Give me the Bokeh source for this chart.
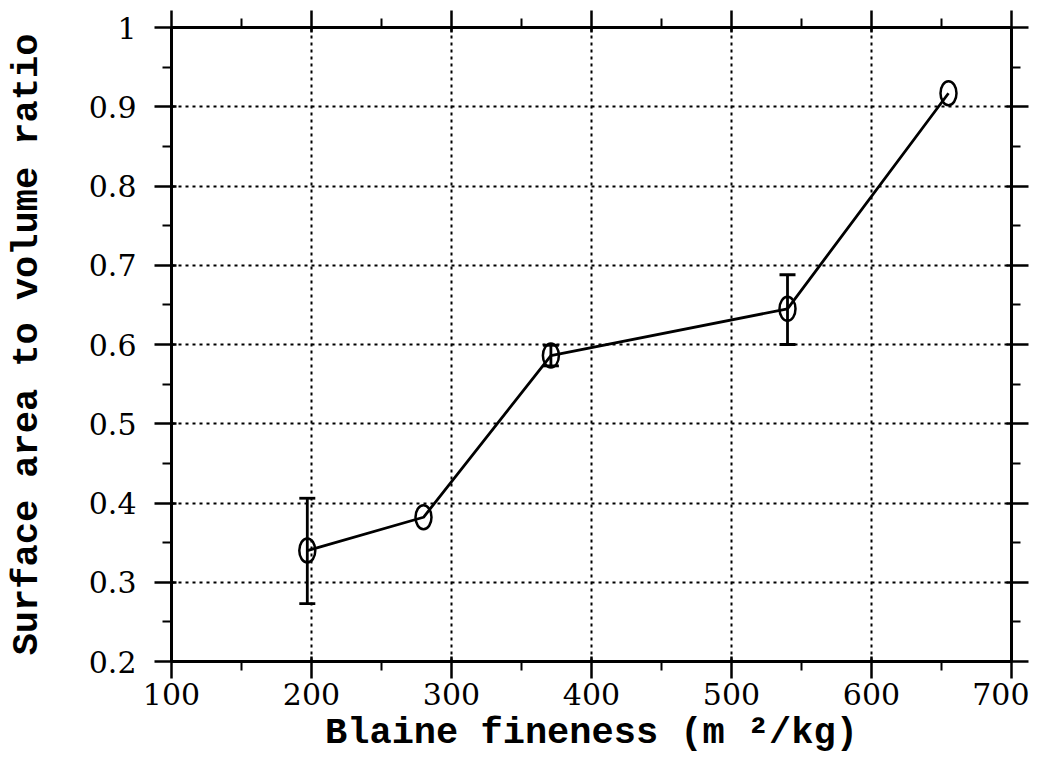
from bokeh.plotting import figure
from bokeh.models import (FixedTicker, LinearAxis, Whisker, TeeHead,
                          ColumnDataSource, Range1d, CustomJSTickFormatter)
from bokeh.embed import file_html
from bokeh.resources import INLINE

# ---- data ----
blaine = [197, 280, 371, 540, 655]
ratio = [0.340, 0.382, 0.586, 0.645, 0.917]

err_x = [197, 371, 540]
err_lo = [0.273, 0.573, 0.600]
err_hi = [0.406, 0.599, 0.688]

x_ticks = [100, 200, 300, 400, 500, 600, 700]
x_minor = [150, 250, 350, 450, 550, 650]
y_ticks = [0.2, 0.3, 0.4, 0.5, 0.6, 0.7, 0.8, 0.9, 1.0]
y_tick_labels = ["0.2", "0.3", "0.4", "0.5", "0.6", "0.7", "0.8", "0.9", "1"]
y_minor = [0.25, 0.35, 0.45, 0.55, 0.65, 0.75, 0.85, 0.95]

x_label = "Blaine fineness (m \u00b2/kg)"
y_label = "Surface area to volume ratio"

TICK_FONT = "DejaVu Serif"
LABEL_FONT = "Liberation Mono"

p = figure(width=1029, height=757,
           x_range=Range1d(100, 700), y_range=Range1d(0.2, 1.0),
           output_backend="svg", toolbar_location=None,
           min_border_left=171, min_border_right=18,
           min_border_top=27, min_border_bottom=96)
p.outline_line_color = None
p.background_fill_color = "white"
p.border_fill_color = "white"

xt = FixedTicker(ticks=x_ticks, minor_ticks=x_minor)
yt = FixedTicker(ticks=y_ticks, minor_ticks=y_minor)


def style_axis(ax, labels=True):
    ax.axis_line_color = "black"
    ax.axis_line_width = 3
    ax.major_tick_line_color = "black"
    ax.major_tick_line_width = 2.5
    ax.major_tick_in = 5
    ax.major_tick_out = 17
    ax.minor_tick_line_color = "black"
    ax.minor_tick_line_width = 2
    ax.minor_tick_in = 0
    ax.minor_tick_out = 9
    if labels:
        ax.major_label_text_font = TICK_FONT
        ax.major_label_text_font_size = "30px"
        ax.major_label_text_color = "black"
    else:
        ax.formatter = CustomJSTickFormatter(code="return '';")
        ax.major_label_standoff = 0


xa = p.xaxis[0]
xa.ticker = xt
style_axis(xa)
xa.major_label_standoff = 4
xa.axis_label = x_label
xa.axis_label_text_font = LABEL_FONT
xa.axis_label_text_font_style = "bold"
xa.axis_label_text_font_size = "37px"
xa.axis_label_text_color = "black"
xa.axis_label_standoff = 4

ya = p.yaxis[0]
ya.ticker = yt
style_axis(ya)
ya.major_label_overrides = dict(zip(y_ticks, y_tick_labels))
ya.major_label_standoff = 18
ya.axis_label = y_label
ya.axis_label_text_font = LABEL_FONT
ya.axis_label_text_font_style = "bold"
ya.axis_label_text_font_size = "37px"
ya.axis_label_text_color = "black"
ya.axis_label_standoff = 38

top = LinearAxis(ticker=xt)
style_axis(top, labels=False)
p.add_layout(top, "above")
right = LinearAxis(ticker=yt)
style_axis(right, labels=False)
p.add_layout(right, "right")

for g, t in ((p.xgrid[0], xt), (p.ygrid[0], yt)):
    g.ticker = t
    g.grid_line_color = "black"
    g.grid_line_width = 2
    g.grid_line_dash = "3 4"

src = ColumnDataSource(dict(x=blaine, y=ratio))
p.line("x", "y", source=src, line_color="black", line_width=2.8)

esrc = ColumnDataSource(dict(x=err_x, lo=err_lo, hi=err_hi))
w = Whisker(base="x", lower="lo", upper="hi", source=esrc,
            line_color="black", line_width=2.8,
            upper_head=TeeHead(size=16, line_color="black", line_width=2.8),
            lower_head=TeeHead(size=16, line_color="black", line_width=2.8))
p.add_layout(w)

p.ellipse("x", "y", source=src, width=16, height=24,
          width_units="screen", height_units="screen",
          fill_color=None, line_color="black", line_width=2.5)

open("out.html", "w").write(file_html(p, INLINE))
